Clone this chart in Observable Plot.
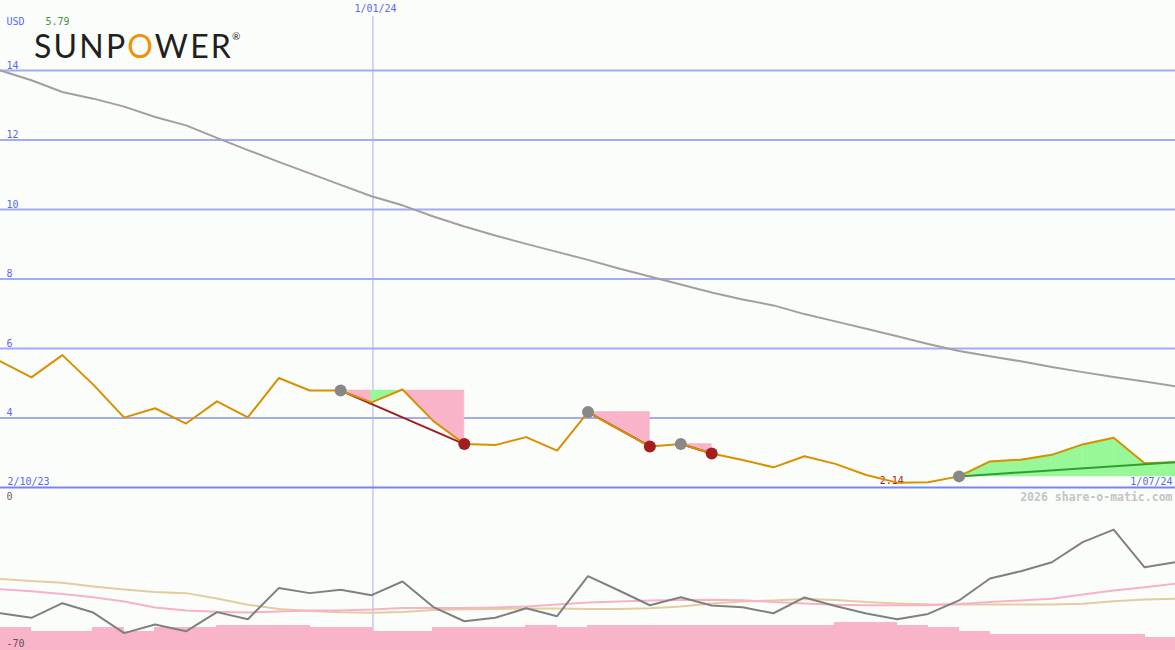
<!DOCTYPE html>
<html>
<head>
<meta charset="utf-8">
<script src="https://cdn.jsdelivr.net/npm/d3@7"></script>
<script src="https://cdn.jsdelivr.net/npm/@observablehq/plot@0.6"></script>
<style>
html,body{margin:0;padding:0;background:#fbfdfb;}
#chart{position:relative;width:1175px;height:650px;overflow:hidden;background:#fbfdfb;}
#chart svg{position:absolute;left:0;top:0;}
#logo{position:absolute;left:34px;top:30px;font-family:Lato,"Open Sans",sans-serif;font-size:32px;letter-spacing:2.2px;color:#231f20;font-weight:400;line-height:1;white-space:nowrap;}
#logo .o{color:#f39200;}
#logo .r{font-size:10px;letter-spacing:0;vertical-align:top;position:relative;top:1px;left:-1px;}
</style>
</head>
<body>
<div id="chart"><div id="logo">SUNP<span class="o">O</span>WER<span class="r">®</span></div></div>
<script>
// ---- data ----
const dateLabels = ["2/10/23", "1/01/24", "1/07/24"];
const dateMarkIndex = 12;
const yTicks = [4, 6, 8, 10, 12, 14];
const lowerTicks = [0, -70];
const currency = "USD";
const lastLabel = "5.79";
const credit = "2026 share-o-matic.com";

const price = [5.63,5.17,5.81,4.96,4.01,4.28,3.84,4.48,4.02,5.15,4.79,4.79,4.45,4.82,3.91,3.25,3.22,3.45,3.06,4.17,3.67,3.18,3.25,2.98,2.79,2.58,2.90,2.68,2.36,2.14,2.15,2.32,2.75,2.80,2.94,3.24,3.43,2.70,2.73];
const longMA = [14.0,13.72,13.38,13.19,12.96,12.66,12.42,12.06,11.71,11.37,11.04,10.71,10.38,10.12,9.80,9.51,9.25,9.01,8.78,8.55,8.30,8.07,7.84,7.61,7.41,7.24,6.99,6.78,6.57,6.35,6.13,5.93,5.78,5.63,5.47,5.32,5.18,5.05,4.91];

const tradeEntry = [11, 19, 22, 31];
const tradeExit = [15, 21, 23, 38];
const tradeOpen = [false, false, false, true];

const osc = [-53.7,-55.7,-49.3,-53.4,-62.4,-58.6,-61.6,-53.2,-56.3,-42.7,-44.9,-43.4,-45.8,-39.8,-51.0,-57.2,-55.7,-51.5,-55.0,-37.5,-43.75,-50.2,-46.7,-50.3,-51.1,-53.7,-46.8,-50.5,-53.8,-56.3,-54.0,-48.1,-38.5,-35.3,-31.4,-22.6,-17.1,-33.6,-31.4];
const oscPink = [-43.2,-44.1,-45.3,-46.7,-48.6,-51.2,-52.5,-53.1,-53.4,-52.9,-52.5,-52.5,-52.1,-51.4,-51.4,-51.4,-51.2,-50.75,-49.9,-49.0,-48.6,-48.1,-47.9,-47.8,-48.0,-48.8,-49.4,-50.0,-50.2,-50.2,-50.2,-49.7,-48.8,-48.1,-47.4,-45.5,-43.75,-42.3,-40.8];
const oscTan = [-38.75,-39.6,-40.4,-42,-43.3,-44.4,-44.9,-47.25,-50.0,-51.8,-52.7,-53.3,-53.5,-53.2,-52.3,-52.0,-51.8,-51.6,-51.6,-51.8,-51.8,-51.5,-50.75,-49.4,-48.6,-48.1,-47.5,-47.9,-48.8,-49.4,-49.8,-49.9,-49.9,-49.9,-49.9,-49.6,-48.4,-47.7,-47.4];
const volBars = [-60.2,-61.7,-61.7,-60.2,-61.7,-60.2,-60.2,-59.1,-59.1,-59.1,-60.2,-60.2,-61.7,-61.7,-60.2,-60.2,-60.2,-59.1,-60.2,-59.1,-59.1,-59.1,-59.1,-59.1,-59.1,-59.1,-59.1,-57.75,-57.75,-59.1,-60.2,-61.7,-63.4,-63.4,-63.4,-63.4,-63.4,-64.6];

// ---- derived ----
const W = 1175, H = 650;
const n = price.length;
const xDomain = [0, n - 1];
const PINK = "#f9b4c9", GREEN = "#98f898";
const gridBlue = "#a3acf2", baseBlue = "#7884f0", textBlue = "#5a68f0";

const fillRows = [];
tradeEntry.forEach((e, t) => {
  const lvl = price[e];
  for (let i = e; i < tradeExit[t]; i++) {
    const c = (price[i + 1] > price[i] || tradeOpen[t]) ? GREEN : PINK;
    const seg = t + "-" + i;
    fillRows.push({x: i, y1: lvl, y2: price[i], seg, c});
    fillRows.push({x: i + 1, y1: lvl, y2: price[i + 1], seg, c});
  }
});
const trades = tradeEntry.map((e, t) => ({e, x: tradeExit[t], open: tradeOpen[t]}));
const closed = trades.filter(d => !d.open);
const minIdx = d3.minIndex(price);

const font = "'DejaVu Sans Mono', monospace";

const topPlot = Plot.plot({
  width: W, height: H, margin: 0,
  x: {domain: xDomain, range: [0, W], axis: null},
  y: {domain: [2, 14], range: [487, 70], axis: null},
  color: {type: "identity"},
  style: {background: "transparent", fontFamily: font, fontSize: "10px", overflow: "visible"},
  marks: [
    Plot.ruleY(yTicks, {stroke: gridBlue, strokeWidth: 2}),
    Plot.ruleX([dateMarkIndex], {stroke: gridBlue, strokeWidth: 1, insetTop: 16, dx: 1.4}),
    Plot.ruleY([2], {stroke: baseBlue, strokeWidth: 2}),
    Plot.text(yTicks, {x: 0, y: d => d, text: d => String(d), textAnchor: "start", lineAnchor: "bottom", dx: 6, dy: -2, fill: textBlue}),
    Plot.line(longMA, {x: (d, i) => i, y: d => d, stroke: "#a0a0a0", strokeWidth: 2}),
    Plot.areaY(fillRows, {x: "x", y1: "y1", y2: "y2", z: "seg", fill: "c", stroke: "c", strokeWidth: 0.6}),
    Plot.text([price[minIdx]], {x: minIdx, y: d => d, text: d => d.toFixed(2), textAnchor: "middle", lineAnchor: "bottom", dx: -5.5, dy: 1, fill: "#a01c1c"}),
    Plot.link(trades, {x1: "e", y1: d => price[d.e], x2: "x", y2: d => price[d.x], stroke: "#a01c1c", strokeWidth: 2, filter: d => !d.open}),
    Plot.line(price, {x: (d, i) => i, y: d => d, stroke: "#d99000", strokeWidth: 2}),
    Plot.link(trades, {x1: "e", y1: d => price[d.e], x2: "x", y2: d => price[d.x], stroke: "#2ea02e", strokeWidth: 2, filter: d => d.open}),
    Plot.dot(tradeEntry, {x: d => d, y: d => price[d], r: 6, fill: "#888888"}),
    Plot.dot(closed, {x: "x", y: d => price[d.x], r: 6, fill: "#a41e1e"}),
    Plot.text([dateLabels[1]], {x: dateMarkIndex, frameAnchor: "top", textAnchor: "middle", lineAnchor: "top", dx: 4, dy: 4, fill: textBlue}),
    Plot.text([dateLabels[0]], {x: 0, y: 2, textAnchor: "start", lineAnchor: "bottom", dx: 7, dy: -3, fill: textBlue}),
    Plot.text([dateLabels[2]], {x: n - 1, y: 2, textAnchor: "end", lineAnchor: "bottom", dx: -3, dy: -3, fill: textBlue}),
    Plot.text([currency], {frameAnchor: "top-left", textAnchor: "start", lineAnchor: "top", dx: 6, dy: 17, fill: textBlue}),
    Plot.text([lastLabel], {frameAnchor: "top-left", textAnchor: "start", lineAnchor: "top", dx: 45, dy: 17, fill: "#3a9a3a"}),
    Plot.text([credit], {x: n - 1, y: 2, textAnchor: "end", lineAnchor: "top", dx: -3, dy: 5, fill: "#c4c4c4", fontWeight: "bold", fontSize: 11.5})
  ]
});

const lowPlot = Plot.plot({
  width: W, height: H, margin: 0,
  x: {domain: xDomain, range: [0, W], axis: null},
  y: {domain: [-70, 0], range: [650, 490], axis: null},
  style: {background: "transparent", fontFamily: font, fontSize: "10px", overflow: "visible"},
  marks: [
    Plot.rectY(volBars, {x1: (d, i) => i, x2: (d, i) => i + 1, y1: lowerTicks[1], y2: d => d, fill: PINK, stroke: PINK, strokeWidth: 1, shapeRendering: "crispEdges"}),
    Plot.line(oscTan, {x: (d, i) => i, y: d => d, stroke: "#e2cd9c", strokeWidth: 2}),
    Plot.line(oscPink, {x: (d, i) => i, y: d => d, stroke: "#f8b2c8", strokeWidth: 2}),
    Plot.line(osc, {x: (d, i) => i, y: d => d, stroke: "#808080", strokeWidth: 2}),
    Plot.text([lowerTicks[0]], {x: 0, y: d => d, text: d => String(d), textAnchor: "start", lineAnchor: "top", dx: 6, dy: 2, fill: "#666"}),
    Plot.text([lowerTicks[1]], {x: 0, y: d => d, text: d => String(d), textAnchor: "start", lineAnchor: "bottom", dx: 6, dy: -4, fill: "#555"})
  ]
});

const chart = document.getElementById("chart");
chart.insertBefore(topPlot, chart.firstChild);
chart.insertBefore(lowPlot, document.getElementById("logo"));
</script>
</body>
</html>
